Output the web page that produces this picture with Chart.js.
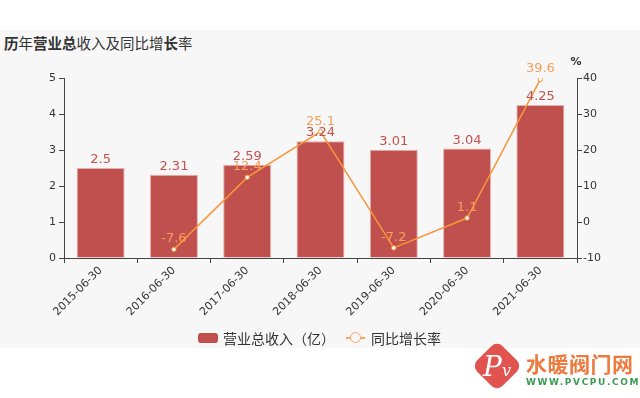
<!DOCTYPE html>
<html>
<head>
<meta charset="utf-8">
<script src="https://cdn.jsdelivr.net/npm/chart.js@4"></script>
<style>
  html,body{margin:0;padding:0;background:#fff;width:640px;height:398px;overflow:hidden;}
  body{position:relative;font-family:"DejaVu Sans","Noto Sans CJK SC",sans-serif;}
  #bg{position:absolute;left:0;top:30px;width:640px;height:318px;background:#f7f7f7;}
  #title{position:absolute;left:4px;top:32px;font-size:14.5px;color:#333;font-family:"Noto Sans CJK SC","DejaVu Sans",sans-serif;white-space:nowrap;}
  #title b{font-weight:bold;}
  #chartwrap{position:absolute;left:0;top:0;width:640px;height:398px;}
  #legend{position:absolute;top:329px;left:198px;height:18px;font-size:14px;color:#333;font-family:"Noto Sans CJK SC","DejaVu Sans",sans-serif;white-space:nowrap;}
  .lg{position:absolute;top:0;line-height:18px;}
  #lbox{position:absolute;left:0;top:4px;width:20px;height:10px;background:#c0504d;border-radius:3px;}
  #lline{position:absolute;left:148px;top:8px;width:19px;height:1.5px;background:#f7a463;}
  #lcirc{position:absolute;left:152px;top:3px;border:1px solid #f7a463;border-radius:50%;background:#f7f7f7;box-sizing:border-box;width:11px;height:11px;}
  #wm{position:absolute;left:470px;top:340px;width:170px;height:58px;}
  #dia{position:absolute;left:9px;top:8px;width:36px;height:36px;background:#e0534e;border-radius:8px;transform:rotate(45deg);}
  #pv{position:absolute;left:4px;top:7px;width:46px;height:40px;color:#fff;font-family:"DejaVu Serif",serif;font-style:italic;font-size:28px;line-height:40px;text-align:center;}
  #pv small{font-size:16px;}
  #wmt{position:absolute;left:56px;top:11px;font-family:"Noto Sans CJK SC",sans-serif;font-size:21px;line-height:24px;font-weight:bold;color:#ee7a3e;letter-spacing:0.5px;}
  #wmu{position:absolute;left:56px;top:37px;font-family:"DejaVu Sans",sans-serif;font-size:9px;line-height:11px;font-weight:bold;color:#3c9a55;letter-spacing:1.6px;}
</style>
</head>
<body>
<div id="bg"></div>
<div id="title"><b>历</b>年<b>营业总</b>收入及同比增<b>长</b>率</div>
<div id="chartwrap"><canvas id="c" width="640" height="398"></canvas></div>
<div id="legend">
  <div id="lbox"></div><div class="lg" style="left:25px;">营业总收入（亿）</div>
  <div id="lline"></div><div id="lcirc"></div><div class="lg" style="left:173px;">同比增长率</div>
</div>
<div id="wm">
  <div id="dia"></div>
  <div id="pv">P<small>v</small></div>
  <div id="wmt">水暖阀门网</div>
  <div id="wmu">WWW.PVCPU.COM</div>
</div>
<script>
const categories = ["2015-06-30","2016-06-30","2017-06-30","2018-06-30","2019-06-30","2020-06-30","2021-06-30"];
const revenue = [2.5, 2.31, 2.59, 3.24, 3.01, 3.04, 4.25];
const growth = [null, -7.6, 12.4, 25.1, -7.2, 1.1, 39.6];
const revenueLabels = ["2.5","2.31","2.59","3.24","3.01","3.04","4.25"];
const growthLabels = ["","-7.6","12.4","25.1","-7.2","1.1","39.6"];

const BAR = '#c0504d', LINE = '#f7963c', LINELBL = '#f5a05a', AX = '#444';
const FONT = '"DejaVu Sans","Noto Sans CJK SC",sans-serif';

const labelsPlugin = {
  id: 'valueLabels',
  afterDatasetsDraw(chart) {
    const ctx = chart.ctx;
    ctx.save();
    ctx.font = '13px ' + FONT;
    ctx.textAlign = 'center';
    ctx.textBaseline = 'alphabetic';
    chart.getDatasetMeta(0).data.forEach((el, i) => {
      ctx.fillStyle = '#c5504c';
      ctx.fillText(revenueLabels[i], el.x, el.y - 5);
    });
    chart.getDatasetMeta(1).data.forEach((el, i) => {
      if (growth[i] === null) return;
      ctx.fillStyle = LINELBL;
      ctx.fillText(growthLabels[i], el.x, el.y - 7);
    });
    const r = chart.scales.y1;
    ctx.fillStyle = '#333';
    ctx.font = 'bold 11px ' + FONT;
    ctx.textAlign = 'center';
    ctx.fillText('%', r.left - 1, chart.chartArea.top - 13);
    ctx.restore();
  }
};

new Chart(document.getElementById('c'), {
  data: {
    labels: categories,
    datasets: [
      {
        type: 'bar', label: '营业总收入（亿）', data: revenue, yAxisID: 'y',
        backgroundColor: BAR, borderColor: '#e4b2b0', borderWidth: 1,
        barPercentage: 0.655, categoryPercentage: 1, order: 2
      },
      {
        type: 'line', label: '同比增长率', data: growth, yAxisID: 'y1',
        borderColor: LINE, borderWidth: 1.5, pointRadius: 2.2, pointBorderWidth: 1,
        pointBackgroundColor: '#fff', pointBorderColor: LINE, tension: 0, spanGaps: false, order: 1
      }
    ]
  },
  options: {
    responsive: false, animation: false,
    layout: { padding: { left: 0, right: 0, top: 78, bottom: 0 } },
    plugins: { legend: { display: false }, tooltip: { enabled: false }, title: { display: false } },
    scales: {
      x: {
        grid: { display: true, drawOnChartArea: false, drawTicks: true, tickLength: 5, color: AX, offset: true },
        border: { display: true, color: AX, width: 1 },
        ticks: { color: '#333', font: { size: 11, family: FONT }, minRotation: 45, maxRotation: 45, padding: 1 },
        afterFit(s) { s.height = 140; }
      },
      y: {
        position: 'left', min: 0, max: 5,
        grid: { display: true, drawOnChartArea: false, tickLength: 5, color: AX },
        border: { display: true, color: AX, width: 1 },
        ticks: { stepSize: 1, color: '#333', font: { size: 11, family: FONT }, padding: 3 },
        afterFit(s) { s.width = 64; }
      },
      y1: {
        position: 'right', min: -10, max: 40,
        grid: { display: true, drawOnChartArea: false, tickLength: 5, color: AX },
        border: { display: true, color: AX, width: 1 },
        ticks: { stepSize: 10, color: '#333', font: { size: 11, family: FONT }, padding: 1 },
        afterFit(s) { s.width = 63; }
      }
    }
  },
  plugins: [labelsPlugin]
});
</script>
</body>
</html>
